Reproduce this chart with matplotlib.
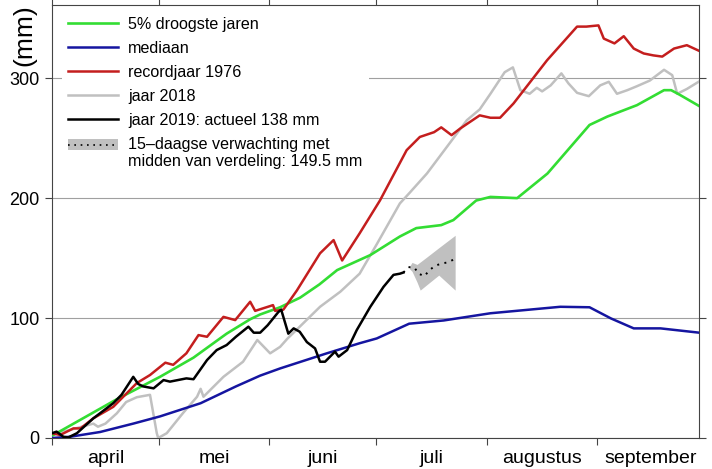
import matplotlib.pyplot as plt
from matplotlib.lines import Line2D
from matplotlib.patches import Rectangle
from matplotlib.legend_handler import HandlerBase

plt.rcParams['font.family'] = ['Liberation Sans', 'DejaVu Sans']

# days since 1 april
month_starts = [0, 30, 61, 91, 122, 153, 183]
month_names = ['april', 'mei', 'juni', 'juli', 'augustus', 'september']

# 5% droogste jaren
dry5_day = [0, 1.3, 18, 30.3, 39.7, 49, 55.6, 58.4, 64, 69.6, 75, 80, 89.3, 97.6, 102.2,
            109.2, 112.6, 119, 123, 130.5, 139, 150.8, 155.8, 164.1, 171.7, 173.7, 176.2, 181.6]
dry5_mm = [2, 4, 32, 51, 67, 87, 99, 103, 109, 117, 128, 140, 152.5, 168, 175,
           177.5, 181.7, 198, 201, 200, 220.5, 261, 268, 277.5, 290, 290, 286, 276.7]

# mediaan
med_day = [0, 5, 13.5, 22.8, 30.3, 41.7, 51.6, 58.4, 64, 77.1, 86.3, 91.1, 100.2, 109.9,
           123, 142.6, 150.8, 156.8, 163.2, 170.7, 181.6]
med_mm = [0, 1, 5, 12, 18, 29, 43, 52, 58, 70.6, 79, 83, 95.3, 98,
          104, 109.4, 109, 99.7, 91.4, 91.4, 87.8]

# recordjaar 1976
rec_day = [0, 2.3, 6, 8, 11.6, 17.2, 23.8, 27.5, 31.8, 34, 37.7, 41.1, 43.5, 48.1, 51.4,
           55.6, 57, 61.2, 62, 62.6, 64.9, 68.7, 75.2, 79, 81.4, 86.3, 92, 99.5, 103.2,
           107.2, 109.2, 112.1, 114.5, 120, 123, 125.7, 129.5, 138.9, 147.3, 149.9, 153.3,
           154.8, 157.8, 160.4, 163.2, 166, 168.7, 171.2, 174.5, 178.1, 181.6]
rec_mm = [4, 2.5, 8, 8, 16.4, 26, 45.8, 52.5, 62.8, 61, 70.6, 85.8, 84.4, 101, 98.3,
          113.6, 106, 110, 110.8, 106, 107, 123, 154, 165, 148, 170.6, 198, 240, 251,
          255, 259, 252.5, 258, 269, 267, 267, 279, 315, 343, 343, 344,
          333, 329, 335, 324.7, 320.6, 319, 318, 324.7, 327.5, 322.7]

# jaar 2018
y18_day = [0, 1.3, 5, 11.6, 12.9, 15, 18.2, 20.8, 23.8, 27.5, 29.4, 29.8, 32.2, 36.7,
           40.7, 41.7, 42.5, 48.1, 53.6, 57.6, 61.2, 64, 66.1, 69.5, 75.2, 80.9, 86.3,
           91.2, 97.6, 100.2, 105.2, 110.8, 116.4, 120, 123, 127, 129.3, 131.4, 134,
           136, 137.5, 139.9, 142.9, 144.9, 147.3, 150.6, 153.8, 156.2, 158.5, 161.4,
           164.1, 167.7, 171.7, 174, 175.4, 178.1, 181.4]
y18_mm = [2, 4, 6.7, 12, 9.4, 12, 20.6, 30, 34, 36, 4, 0, 4, 20.6,
          34.4, 41, 34.4, 51, 63.6, 81.7, 70.6, 76, 83, 92.8, 109.4, 122, 137,
          162, 195.6, 204, 220.6, 242.8, 265, 274, 287, 305, 309, 290, 287,
          292, 289, 294, 304, 295.6, 287.8, 285, 294, 297, 287, 290,
          293.3, 298, 307, 302.5, 287, 291, 297]

# jaar 2019
y19_day = [0, 1.3, 3.2, 4.6, 7, 11.6, 17.2, 19.5, 22.8, 24.2, 25.6, 28.5, 31.3, 33.1,
           37.7, 39.7, 43.5, 46.2, 49, 51.6, 55.1, 56.6, 58.4, 60.5, 63.5, 64.3, 66.3,
           67.8, 69.5, 71.5, 73.8, 75.2, 76.6, 79.4, 80.4, 82.8, 85.5, 89.3, 93, 95.8,
           97.6, 98.6]
y19_mm = [4, 5.3, 1, 0.5, 4, 16.4, 29, 36, 51, 45, 43, 41.4, 48.3, 47,
          49.7, 49, 65, 73.3, 77.5, 84.4, 92.8, 87.8, 87.8, 94, 105, 107, 87,
          91.4, 88.6, 80, 74.7, 63.6, 63.6, 72, 67.8, 73.3, 90, 109.4, 126, 136,
          137, 138]

# 15-daagse verwachting
fc_day = [98.6, 100, 101.7, 102.8, 104.5, 105.9, 107.5, 109.4, 111.1, 113.1]
fc_mid = [138, 142.5, 142, 137, 135, 140, 143.6, 145.6, 146.4, 149.5]
band_day = [100.3, 101, 102.4, 103.3, 105.2, 108.5, 113.1]
band_lo = [141, 139, 130, 123.3, 127.9, 135.8, 123.3]
band_hi = [143, 146.4, 144.7, 146.7, 151, 158.6, 169]

c_green = '#33dd33'
c_blue = '#1515a0'
c_red = '#c41e1e'
c_gray = '#c0c0c0'
c_band = '#c0c0c0'
dots = (0, (1, 2.8))


class ForecastHandler(HandlerBase):
    # grey box with dotted line, lined up with the first text line
    def create_artists(self, legend, orig_handle, xdescent, ydescent, width, height,
                       fontsize, trans):
        dy = 0.55 * fontsize
        box = Rectangle((-xdescent, -ydescent + dy), width, height,
                        facecolor=c_band, lw=0, transform=trans)
        ln = Line2D([-xdescent, -xdescent + width], [-ydescent + dy + height / 2] * 2,
                    color='black', lw=1.2, linestyle=dots, transform=trans)
        return [box, ln]


fig = plt.figure(figsize=(7.12, 4.69), dpi=100)
ax = fig.add_axes([0.073, 0.0661, 0.9092, 0.9232])

ax.grid(axis='y', color='#a0a0a0', lw=0.8)
ax.set_axisbelow(True)

ax.fill_between(band_day, band_lo, band_hi, color=c_band, lw=0, zorder=2)
ax.plot(y18_day, y18_mm, color=c_gray, lw=1.8, zorder=3)
ax.plot(dry5_day, dry5_mm, color=c_green, lw=1.9, zorder=3)
ax.plot(med_day, med_mm, color=c_blue, lw=1.8, zorder=3)
ax.plot(rec_day, rec_mm, color=c_red, lw=1.8, zorder=3)
ax.plot(y19_day, y19_mm, color='black', lw=1.8, zorder=4)
ax.plot(fc_day, fc_mid, color='black', lw=1.4, linestyle=dots, zorder=4)

ax.set_xlim(0, 181.6)
ax.set_ylim(0, 361)
ax.set_yticks([0, 100, 200, 300])
ax.set_xticks(month_starts[:-1])
ax.set_xticklabels([])
mids = [(a + b) / 2 for a, b in zip(month_starts[:-1], month_starts[1:])]
ax.set_xticks(mids, minor=True)
ax.set_xticklabels(month_names, minor=True)
ax.tick_params(axis='x', which='minor', length=0, labelsize=14, pad=9)
ax.tick_params(axis='x', which='major', top=True, direction='out', length=5,
               color='#444444')
ax.tick_params(axis='y', right=True, direction='out', length=5, labelsize=13, pad=4,
               color='#444444')
for s in ax.spines.values():
    s.set_color('#444444')
    s.set_linewidth(0.8)

fig.text(0.034, 1 - 35 / 469, '(mm)', rotation=90, ha='center', va='center', fontsize=19)

handles = [
    Line2D([], [], color=c_green, lw=1.9),
    Line2D([], [], color=c_blue, lw=1.8),
    Line2D([], [], color=c_red, lw=1.8),
    Line2D([], [], color=c_gray, lw=1.8),
    Line2D([], [], color='black', lw=1.8),
    'forecast',
]
labels = [
    '5% droogste jaren',
    'mediaan',
    'recordjaar 1976',
    'jaar 2018',
    'jaar 2019: actueel 138 mm',
    '15\u2013daagse verwachting met\nmidden van verdeling: 149.5 mm',
]
leg = ax.legend(handles, labels, loc='upper left', bbox_to_anchor=(0.0155, 0.9875),
                borderaxespad=0, frameon=True, fancybox=False, edgecolor='none',
                facecolor='white', framealpha=1, fontsize=11.6, handlelength=3.1,
                handletextpad=0.62, labelspacing=0.56,
                handler_map={str: ForecastHandler()})

fig.savefig('out.png', dpi=100)
